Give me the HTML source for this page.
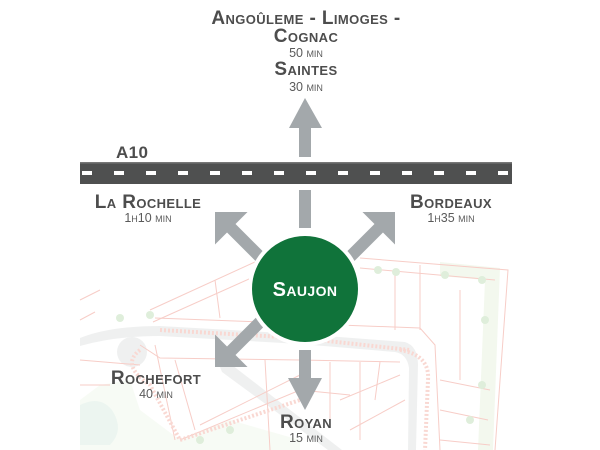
<!DOCTYPE html>
<html><head><meta charset="utf-8"><style>
html,body{margin:0;padding:0;background:#fff;width:600px;height:450px;overflow:hidden}
svg text{font-family:"Liberation Sans",sans-serif;font-weight:bold;fill:#4d4d4d}
.t{font-variant:small-caps;font-size:19px;letter-spacing:0.4px}
.m{font-weight:normal!important;font-size:12.5px;font-variant:small-caps;fill:#5a5a5a!important}
</style></head><body>
<svg width="600" height="450" viewBox="0 0 600 450" xmlns="http://www.w3.org/2000/svg">
<!-- map background -->
<g opacity="0.7">
<path d="M440 262 L500 268 L493 450 L478 450 L485 280 L440 276Z" fill="#eef6e8"/>
<path d="M80 338 Q110 326 160 326 L300 334 L405 342 Q418 346 418 365 L416 450 L408 450 L409 368 Q407 354 395 352 L300 344 L160 336 Q115 336 80 346Z" fill="#e9ebeb"/>
<path d="M218 362 L232 365 L342 450 L328 450 L222 372Z" fill="#e9ebeb"/>
<circle cx="132" cy="352" r="15" fill="#e9ebeb"/>
<path d="M80 405 Q100 395 112 410 Q125 430 110 445 L80 445Z" fill="#d8ecf0"/>
<path d="M100 385 L130 380 L140 410 L180 440 L230 420 L300 440 L300 450 L80 450 L80 400Z" fill="#eef6e8" opacity="0.6"/>
<g fill="none" stroke="#f4b8b0" stroke-width="1">
<path d="M150 310 L255 262"/><path d="M153 322 L258 275"/>
<path d="M360 258 L508 270 L495 450"/><path d="M360 268 L495 280"/>
<path d="M155 318 L420 328 L435 345 L440 450"/>
<path d="M140 345 L160 358 L300 360 L400 362"/>
<path d="M80 360 L140 365 M80 385 L110 385 M155 345 L175 440 M175 360 L195 430"/>
<path d="M180 440 L300 390 L350 395 M200 425 L300 375"/>
<path d="M265 360 L270 450 M330 362 L330 420 M360 362 L360 440 M380 362 L375 400"/>
<path d="M340 400 L400 375 M350 430 L405 400 M440 380 L490 390 M440 410 L488 420 M440 440 L490 445"/>
<path d="M215 280 L220 318 M395 270 L395 330 M420 265 L420 330 M460 290 L460 380"/>
<path d="M80 300 L100 290 M80 320 L95 312"/>
</g>
<g fill="none" stroke="#f7c8c0" stroke-width="4" stroke-dasharray="2 2">
<path d="M160 330 L300 338 L410 350"/>
<path d="M400 350 Q430 355 428 380 L425 450"/>
<path d="M140 350 Q120 365 150 385 L180 440"/>
<path d="M180 440 L300 400"/>
</g>
<g fill="#d2e8cc">
<circle cx="378" cy="270" r="4"/><circle cx="396" cy="272" r="4"/><circle cx="445" cy="275" r="4"/><circle cx="482" cy="280" r="4"/>
<circle cx="485" cy="320" r="4"/><circle cx="482" cy="385" r="4"/><circle cx="470" cy="420" r="4"/>
<circle cx="150" cy="315" r="4"/><circle cx="120" cy="318" r="4"/><circle cx="230" cy="430" r="4"/><circle cx="200" cy="440" r="4"/>
</g>
</g>
<!-- road -->
<rect x="80" y="162" width="432" height="22" fill="#4f5050"/>
<line x1="82" y1="173" x2="512" y2="173" stroke="#fff" stroke-width="4" stroke-dasharray="10 22"/>
<rect x="80" y="162" width="432" height="1.5" fill="#777"/>
<!-- arrows -->
<g fill="#a3a8ab">
<path d="M305 98 L322 128 L311 128 L311 157 L299 157 L299 128 L289 128Z"/>
<rect x="299" y="190" width="12" height="38"/>
<path d="M305 410 L322 378 L311 378 L311 350 L299 350 L299 378 L288 378Z"/>
<g transform="translate(215,212) rotate(-45)"><path d="M0 0 L23 23 L6 23 L6 66 L-6 66 L-6 23 L-23 23Z"/></g>
<g transform="translate(395,212) rotate(45)"><path d="M0 0 L23 23 L6 23 L6 66 L-6 66 L-6 23 L-23 23Z"/></g>
<g transform="translate(215,367) rotate(-135)"><path d="M0 0 L23 23 L6 23 L6 66 L-6 66 L-6 23 L-23 23Z"/></g>
</g>
<circle cx="305" cy="289" r="57" fill="#fff"/>
<circle cx="305" cy="289" r="53" fill="#10733a"/>
<text x="305" y="296" text-anchor="middle" class="t" style="fill:#fff;font-size:20px">Saujon</text>
<!-- labels -->
<text x="306" y="24" text-anchor="middle" class="t">Angoûleme - Limoges -</text>
<text x="306" y="42" text-anchor="middle" class="t">Cognac</text>
<text x="306" y="57" text-anchor="middle" class="m">50 min</text>
<text x="306" y="75" text-anchor="middle" class="t">Saintes</text>
<text x="306" y="91" text-anchor="middle" class="m">30 min</text>
<text x="116" y="158" class="t" style="font-size:17px">A10</text>
<text x="148" y="208" text-anchor="middle" class="t">La Rochelle</text>
<text x="148" y="222" text-anchor="middle" class="m">1h10 min</text>
<text x="451" y="208" text-anchor="middle" class="t">Bordeaux</text>
<text x="451" y="222" text-anchor="middle" class="m">1h35 min</text>
<text x="156" y="384" text-anchor="middle" class="t">Rochefort</text>
<text x="156" y="398" text-anchor="middle" class="m">40 min</text>
<text x="306" y="428" text-anchor="middle" class="t">Royan</text>
<text x="306" y="442" text-anchor="middle" class="m">15 min</text>
</svg>
</body></html>
